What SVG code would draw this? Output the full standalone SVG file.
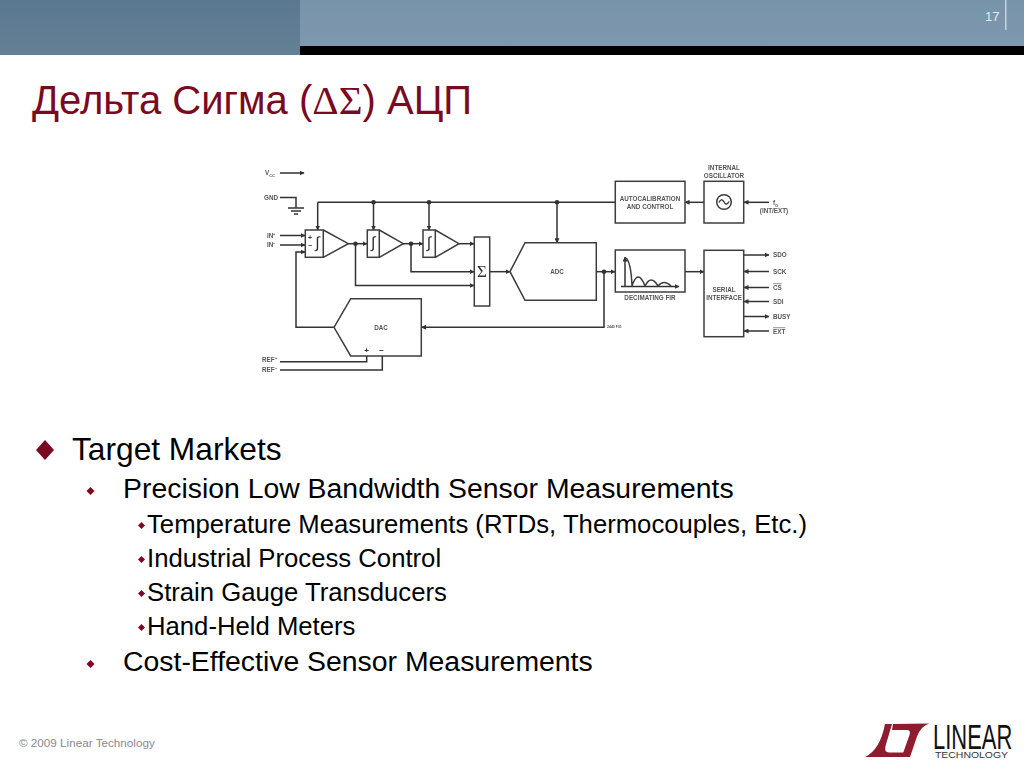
<svg xmlns="http://www.w3.org/2000/svg" width="1024" height="768" viewBox="0 0 1024 768">
<style>
text{font-family:"Liberation Sans",Arial,sans-serif}
.l{fill:none;stroke:#333;stroke-width:1.5}
.b{fill:none;stroke:#3c3c3c;stroke-width:1.5}
.t{fill:#555;font-size:6.300px;font-weight:bold}
.m{text-anchor:middle}
.h1{font-size:31.700px;fill:#000}
.h2{font-size:28.400px;fill:#000}
.h3{font-size:25.700px;fill:#000}
.d{fill:#7a0a22}
.i{fill:#333}
</style>
<defs>
<filter id="soft" x="-2%" y="-2%" width="104%" height="104%"><feGaussianBlur stdDeviation="0.4"/></filter>
<marker id="a" markerUnits="userSpaceOnUse" markerWidth="5" markerHeight="5" refX="4.500" refY="2.500" orient="auto"><path d="M0 0L5 2.500L0 5z" fill="#333"/></marker>
<linearGradient id="hl" x1="0" y1="0" x2="0" y2="1"><stop offset="0" stop-color="#5a7890"/><stop offset="1" stop-color="#648097"/></linearGradient>
<linearGradient id="hr" x1="0" y1="0" x2="0" y2="1"><stop offset="0" stop-color="#7793aa"/><stop offset="1" stop-color="#7e98ae"/></linearGradient>
</defs>
<rect width="1024" height="768" fill="#fff"/>
<g id="header">
<rect x="300" y="0" width="724" height="47" fill="url(#hr)"/>
<rect x="300" y="46" width="724" height="9" fill="#000"/>
<rect x="0" y="0" width="300" height="55" fill="url(#hl)"/>
<rect x="1005" y="0" width="1.500" height="30" fill="#c6d2dc"/>
<text x="985" y="21" fill="#e4ebf0" font-size="13">17</text>
</g>
<text id="title" x="32" y="114" font-size="40" fill="#7a0a22">Дельта Сигма (<tspan style="font-family:'Liberation Serif',serif" font-size="41">ΔΣ</tspan>) АЦП</text>
<g id="diagram" filter="url(#soft)">
<g id="connectors">
<path class="l" d="M280 173H304" marker-end="url(#a)"/>
<path class="l" d="M280 197.500H296V208M288 208H304M291 211H301M294 214H298"/>
<path class="l" d="M317.700 202.300V230" marker-end="url(#a)"/>
<path class="l" d="M317.700 202.300H616"/>
<path class="l" d="M373.500 202.300V230" marker-end="url(#a)"/>
<path class="l" d="M429 202.300V230" marker-end="url(#a)"/>
<path class="l" d="M557 202.300V242.700" marker-end="url(#a)"/>
<path class="l" d="M280 235.500H305" marker-end="url(#a)"/>
<path class="l" d="M280 245H305" marker-end="url(#a)"/>
<path class="l" d="M334 327.300H296V252H305" marker-end="url(#a)"/>
<path class="l" d="M348 243.700H367" marker-end="url(#a)"/>
<path class="l" d="M403 243.700H423" marker-end="url(#a)"/>
<path class="l" d="M459 243.700H474" marker-end="url(#a)"/>
<path class="l" d="M411 243.700V271.700H474" marker-end="url(#a)"/>
<path class="l" d="M355.500 243.700V285.500H474" marker-end="url(#a)"/>
<path class="l" d="M490 271.700H510" marker-end="url(#a)"/>
<path class="l" d="M596 271.700H615" marker-end="url(#a)"/>
<path class="l" d="M604 271.700V327.300H421.500" marker-end="url(#a)"/>
<path class="l" d="M685 271.700H704" marker-end="url(#a)"/>
<path class="l" d="M704 202.300H685" marker-end="url(#a)"/>
<path class="l" d="M769 202.300H744" marker-end="url(#a)"/>
<path class="l" d="M744 255H769" marker-end="url(#a)"/>
<path class="l" d="M769 271.500H744" marker-end="url(#a)"/>
<path class="l" d="M769 287.500H744" marker-end="url(#a)"/>
<path class="l" d="M769 301.500H744" marker-end="url(#a)"/>
<path class="l" d="M744 316.500H769" marker-end="url(#a)"/>
<path class="l" d="M769 331H744" marker-end="url(#a)"/>
<path class="l" d="M280 361.700H366.700V356M280 370H382.300V356"/>
<circle class="i" cx="373.500" cy="202.300" r="2.300"/>
<circle class="i" cx="429" cy="202.300" r="2.300"/>
<circle class="i" cx="557" cy="202.300" r="2.300"/>
<circle class="i" cx="355.500" cy="243.700" r="2.300"/>
<circle class="i" cx="411" cy="243.700" r="2.300"/>
<circle class="i" cx="604" cy="271.700" r="2.300"/>
</g>
<g id="supply-labels">
<text class="t" x="265" y="175">V<tspan font-size="4" dy="1.500">CC</tspan></text>
<text class="t" x="264" y="200">GND</text>
<text class="t" x="267" y="238">IN⁺</text>
<text class="t" x="267" y="247">IN⁻</text>
<text class="t" x="262" y="362">REF⁺</text>
<text class="t" x="262" y="372">REF⁻</text>
<text class="t" x="607" y="328" style="font-size:3.500px">2440 F01</text>
</g>
<g id="int1">
<rect class="b" x="305.300" y="230" width="18" height="27.300"/>
<path class="b" d="M323.300 230L348.300 243.700L323.300 257.300"/>
<text x="308" y="240" font-size="7" class="i" style="font-weight:bold">+</text>
<text x="308" y="248" font-size="7" class="i" style="font-weight:bold">−</text>
<text x="317.500" y="248" font-size="16" class="m i">∫</text>
</g>
<g id="int2">
<rect class="b" x="367.300" y="230" width="12" height="27.300"/>
<path class="b" d="M379.300 230L403.300 243.700L379.300 257.300"/>
<text x="373.300" y="248" font-size="16" class="m i">∫</text>
</g>
<g id="int3">
<rect class="b" x="423" y="230" width="12.300" height="27.300"/>
<path class="b" d="M435.300 230L459 243.700L435.300 257.300"/>
<text x="429" y="248" font-size="16" class="m i">∫</text>
</g>
<g id="sum">
<rect class="b" x="474.300" y="237" width="15.400" height="69"/>
<text x="482" y="276.500" font-size="17" class="m i" style="font-family:'Liberation Serif',serif">Σ</text>
</g>
<g id="adc">
<path class="b" d="M510 271.700L525 242.700H596.300V300.300H525Z"/>
<text class="t m" x="557" y="274">ADC</text>
</g>
<g id="dac">
<path class="b" d="M334 327.300L350.700 298.700H421.300V356H350.700Z"/>
<text class="t m" x="381" y="330">DAC</text>
<text x="366.500" y="353" font-size="8" class="m i" style="font-weight:bold">+</text>
<text x="381.500" y="353" font-size="8" class="m i" style="font-weight:bold">−</text>
</g>
<g id="autocal">
<rect class="b" x="615.300" y="181.300" width="69.700" height="41.700"/>
<text class="t m" x="650" y="201">AUTOCALIBRATION</text>
<text class="t m" x="650" y="209">AND CONTROL</text>
</g>
<g id="osc">
<rect class="b" x="704" y="181.300" width="39.700" height="41.700"/>
<circle class="b" cx="724" cy="202" r="7.300"/>
<path class="b" d="M719 202.500Q721.500 197.500 724 202T729 201.500"/>
<text class="t m" x="724" y="170">INTERNAL</text>
<text class="t m" x="724" y="178">OSCILLATOR</text>
<text class="t" x="773" y="205">f<tspan font-size="4" dy="1.500">O</tspan></text>
<text class="t m" x="774" y="212.500">(INT/EXT)</text>
</g>
<g id="fir">
<rect class="b" x="615.300" y="250" width="69.700" height="42"/>
<path class="l" d="M625 286V257" marker-end="url(#a)"/>
<path class="l" d="M621 286.500H679" marker-end="url(#a)"/>
<path class="b" d="M626 258Q631 262 632 286M632 286Q638 268 645 286M645 286Q651 274 658 286M658 286Q664 279 671 286"/>
<text class="t m" x="650" y="300">DECIMATING FIR</text>
</g>
<g id="serial">
<rect class="b" x="704" y="250.300" width="39.700" height="86.400"/>
<text class="t m" x="724" y="292">SERIAL</text>
<text class="t m" x="724" y="300">INTERFACE</text>
<text class="t" x="773" y="257">SDO</text>
<text class="t" x="773" y="274">SCK</text>
<text class="t" x="773" y="289.500" text-decoration="overline">CS</text>
<text class="t" x="773" y="303.500">SDI</text>
<text class="t" x="773" y="319">BUSY</text>
<text class="t" x="773" y="333.500" text-decoration="overline">EXT</text>
</g>
</g>
<g id="bullets">
<path class="d" d="M45 440L54 450L45 460L36 450Z"/>
<text class="h1" x="72" y="460">Target Markets</text>
<path class="d" d="M90.500 487L94.500 491L90.500 495L86.500 491Z"/>
<text class="h2" x="123" y="498">Precision Low Bandwidth Sensor Measurements</text>
<path class="d" d="M141.500 522L145 525.500L141.500 529L138 525.500Z"/>
<text class="h3" x="147" y="533">Temperature Measurements (RTDs, Thermocouples, Etc.)</text>
<path class="d" d="M141.500 556L145 559.500L141.500 563L138 559.500Z"/>
<text class="h3" x="147" y="567">Industrial Process Control</text>
<path class="d" d="M141.500 590L145 593.500L141.500 597L138 593.500Z"/>
<text class="h3" x="147" y="601">Strain Gauge Transducers</text>
<path class="d" d="M141.500 624L145 627.500L141.500 631L138 627.500Z"/>
<text class="h3" x="147" y="635">Hand-Held Meters</text>
<path class="d" d="M90.500 660L94.500 664L90.500 668L86.500 664Z"/>
<text class="h2" x="123" y="671">Cost-Effective Sensor Measurements</text>
</g>
<text id="footer" x="19" y="747" font-size="11.700" fill="#8a8a8a">© 2009 Linear Technology</text>
<g id="logo">
<path fill="#8e1c2e" d="M885 724H892L885.500 746Q884 752.500 889 752.500H905L903 757H865Q880 750 885 724Z"/>
<path fill="#8e1c2e" d="M893 724L929.300 723.500Q921 726 917 736.500L910 757H901.700L909.500 735Q911 730 907 730H892Z"/>
<text transform="translate(933,749) scale(0.627,1)" font-size="35" fill="#111">LINEAR</text>
<text x="935" y="757.500" font-size="8.500" fill="#333" textLength="73" lengthAdjust="spacingAndGlyphs">TECHNOLOGY</text>
</g>
</svg>
